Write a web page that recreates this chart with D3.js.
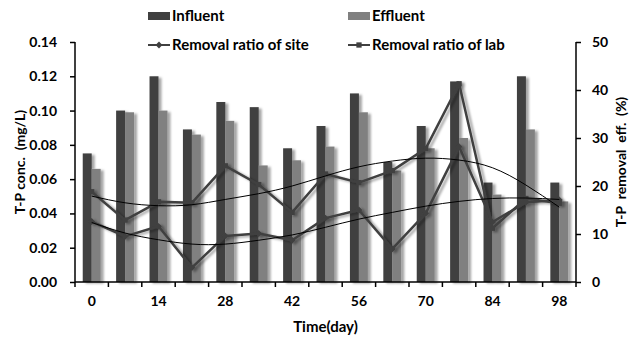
<!DOCTYPE html>
<html>
<head>
<meta charset="utf-8">
<script src="https://cdn.jsdelivr.net/npm/d3@7"></script>
<style>
  body { margin: 0; background: #fff; }
  svg text { font-family: Lato, "Open Sans", sans-serif; font-weight: 700; fill: #000; }
</style>
</head>
<body>
<svg id="chart" width="630" height="340"></svg>
<script>
// days of sampling
const days = [0, 7, 14, 21, 28, 35, 42, 49, 56, 63, 70, 77, 84, 91, 98];
const dayLabels = [0, 14, 28, 42, 56, 70, 84, 98];
// T-P concentration (mg/L)
const influent = [0.075, 0.100, 0.120, 0.089, 0.105, 0.102, 0.078, 0.091, 0.110, 0.070, 0.091, 0.117, 0.058, 0.120, 0.058];
const effluent = [0.066, 0.099, 0.100, 0.086, 0.094, 0.068, 0.071, 0.079, 0.099, 0.065, 0.078, 0.084, 0.051, 0.089, 0.047];
// removal efficiency (%)
const siteRatio = [12.6, 9.5, 11.6, 3.0, 9.6, 10.1, 8.7, 13.3, 15.0, 6.9, 14.3, 28.2, 12.5, 16.6, 17.1];
const labRatio = [18.8, 12.9, 16.7, 16.5, 24.2, 20.3, 14.5, 22.5, 20.7, 23.2, 27.8, 41.3, 11.2, 17.4, 16.4];
// trend lines
const siteTrend = [12.4, 10.2, 8.8, 7.9, 7.9, 8.7, 9.8, 11.4, 13.1, 14.5, 15.8, 16.8, 17.4, 17.5, 17.2];
const labTrend = [17.9, 16.5, 15.9, 16.1, 17.2, 18.4, 20.0, 22.1, 24.0, 25.2, 25.8, 25.4, 23.8, 20.2, 15.6];
const leftTicks = [0, 0.02, 0.04, 0.06, 0.08, 0.10, 0.12, 0.14];
const rightTicks = [0, 10, 20, 30, 40, 50];

const svg = d3.select('#chart');
const margin = { top: 42, right: 54, bottom: 58, left: 75 };
const width = 630 - margin.left - margin.right;
const height = 340 - margin.top - margin.bottom;

// soft shadow like the office chart
const defs = svg.append('defs');
const f = defs.append('filter').attr('id', 'shadow')
  .attr('x', '-20%').attr('y', '-5%').attr('width', '160%').attr('height', '115%');
f.append('feDropShadow').attr('dx', 3).attr('dy', 1.5).attr('stdDeviation', 1.3)
  .attr('flood-color', '#000').attr('flood-opacity', 0.35);

const g = svg.append('g').attr('transform', `translate(${margin.left},${margin.top})`);

const x = d3.scaleBand().domain(days).range([0, width]);
const xSub = d3.scaleBand().domain(['inf', 'eff']).range([0, x.bandwidth()]).paddingOuter(0.86);
const yL = d3.scaleLinear().domain([0, 0.14]).range([height, 0]);
const yR = d3.scaleLinear().domain([0, 50]).range([height, 0]);
const cx = d => x(d) + x.bandwidth() / 2;

// bars
const barGroups = g.append('g').attr('filter', 'url(#shadow)');
barGroups.selectAll('.inf').data(days).enter().append('rect')
  .attr('x', d => x(d) + xSub('inf'))
  .attr('y', (d, i) => yL(influent[i]))
  .attr('width', xSub.bandwidth())
  .attr('height', (d, i) => height - yL(influent[i]))
  .attr('fill', '#404040');
barGroups.selectAll('.eff').data(days).enter().append('rect')
  .attr('x', d => x(d) + xSub('eff'))
  .attr('y', (d, i) => yL(effluent[i]))
  .attr('width', xSub.bandwidth())
  .attr('height', (d, i) => height - yL(effluent[i]))
  .attr('fill', '#808080');

// removal ratio lines
const line = d3.line().x(d => cx(d[0])).y(d => yR(d[1]));
const lineLayer = g.append('g').attr('filter', 'url(#shadow)');
[[siteRatio, 'diamond'], [labRatio, 'square']].forEach(([vals, mk]) => {
  const pts = days.map((d, i) => [d, vals[i]]);
  lineLayer.append('path').datum(pts)
    .attr('fill', 'none').attr('stroke', '#404040').attr('stroke-width', 2.5)
    .attr('stroke-linejoin', 'round')
    .attr('d', line);
  lineLayer.selectAll(null).data(pts).enter().append('path')
    .attr('transform', d => `translate(${cx(d[0])},${yR(d[1])})`)
    .attr('d', d3.symbol().type(mk === 'diamond' ? d3.symbolDiamond2 : d3.symbolSquare).size(mk === 'diamond' ? 30 : 28))
    .attr('fill', '#404040');
});

// trend lines
const trend = d3.line().x(d => cx(d[0])).y(d => yR(d[1])).curve(d3.curveNatural);
[siteTrend, labTrend].forEach(vals => {
  g.append('path').datum(days.map((d, i) => [d, vals[i]]))
    .attr('fill', 'none').attr('stroke', '#000').attr('stroke-width', 1)
    .attr('d', trend);
});

// axes
const axisLeft = g.append('g')
  .call(d3.axisLeft(yL).tickValues(leftTicks).tickFormat(d3.format('.2f')).tickSize(5).tickPadding(13));
const axisRight = g.append('g').attr('transform', `translate(${width},0)`)
  .call(d3.axisRight(yR).tickValues(rightTicks).tickSize(5).tickPadding(11));
const bounds = d3.range(days.length + 1).map(i => i * x.step());
const axisBottom = g.append('g').attr('transform', `translate(0,${height})`);
axisBottom.append('line').attr('x1', 0).attr('x2', width).attr('stroke', '#000').attr('stroke-width', 1.5);
axisBottom.selectAll('.tk').data(bounds).enter().append('line')
  .attr('x1', d => d).attr('x2', d => d).attr('y1', 0).attr('y2', 5)
  .attr('stroke', '#000').attr('stroke-width', 1.5);
axisBottom.selectAll('.lb').data(dayLabels).enter().append('text')
  .attr('x', d => cx(d)).attr('y', 24).attr('text-anchor', 'middle')
  .style('font-size', '14px').text(d => d);

[axisLeft, axisRight].forEach(a => {
  a.select('.domain').attr('stroke', '#000').attr('stroke-width', 1.5)
    .attr('d', `M0,0V${height}`);
  a.selectAll('.tick line').attr('stroke', '#000').attr('stroke-width', 1.5);
  a.selectAll('.tick text').style('font-size', '14px').style('font-family', 'Lato, sans-serif').style('font-weight', 700);
});

// axis titles
svg.append('text').attr('transform', `translate(25,${margin.top + height / 2}) rotate(-90)`)
  .attr('text-anchor', 'middle').style('font-size', '14px')
  .attr('xml:space', 'preserve').text('T-P conc.  (mg/L)');
svg.append('text').attr('transform', `translate(626,${margin.top + height / 2}) rotate(-90)`)
  .attr('text-anchor', 'middle').style('font-size', '14px')
  .attr('xml:space', 'preserve').text('T-P  removal  eff.  (%)');
svg.append('text').attr('x', margin.left + width / 2).attr('y', 332)
  .attr('text-anchor', 'middle').style('font-size', '15px').text('Time(day)');

// legend
const legend = svg.append('g');
const legendItems = [
  { label: 'Influent', type: 'bar', color: '#404040', x: 148, y: 16 },
  { label: 'Effluent', type: 'bar', color: '#808080', x: 348, y: 16 },
  { label: 'Removal ratio of site', type: 'diamond', x: 148, y: 45 },
  { label: 'Removal ratio of lab', type: 'square', x: 348, y: 45 }
];
legendItems.forEach(it => {
  const li = legend.append('g').attr('transform', `translate(${it.x},${it.y})`);
  if (it.type === 'bar') {
    li.append('rect').attr('x', 0).attr('y', -4).attr('width', 22).attr('height', 8).attr('fill', it.color);
  } else {
    li.append('line').attr('x1', 0).attr('x2', 22).attr('stroke', '#404040').attr('stroke-width', 2);
    li.append('path').attr('transform', 'translate(11,0)')
      .attr('d', d3.symbol().type(it.type === 'diamond' ? d3.symbolDiamond2 : d3.symbolSquare).size(it.type === 'diamond' ? 30 : 28))
      .attr('fill', '#404040');
  }
  li.append('text').attr('x', 24).attr('y', 5).style('font-size', '15px').text(it.label);
});
</script>
</body>
</html>
